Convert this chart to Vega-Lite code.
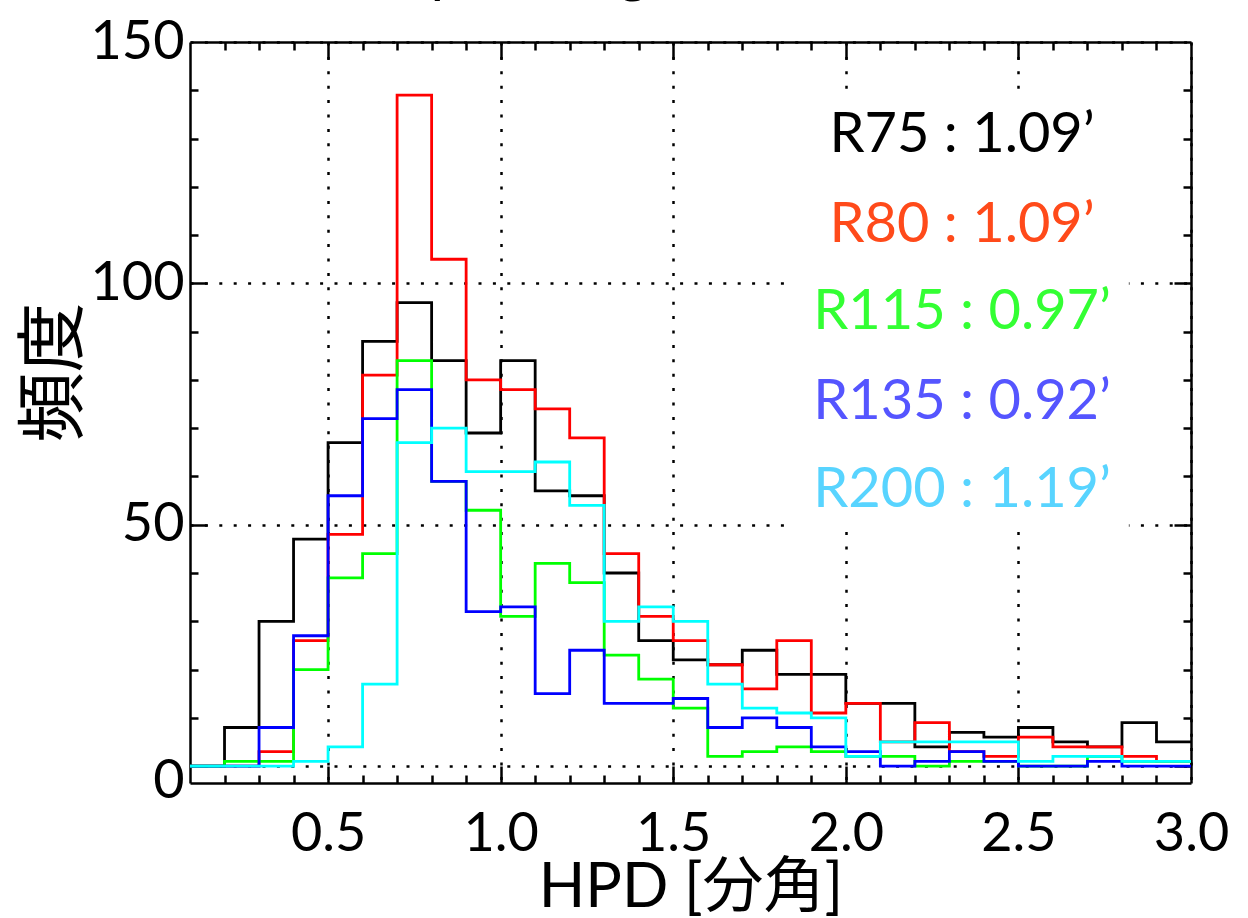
{
  "$schema": "https://vega.github.io/schema/vega-lite/v6.json",
  "width": 1001,
  "height": 741,
  "autosize": {"type": "none"},
  "padding": {"left": 190, "top": 42, "right": 57, "bottom": 135},
  "background": "white",
  "config": {"view": {"stroke": null}, "font": "Lato"},
  "title": {"text": "Spot image 測定結果", "font": "Lato, Noto Sans CJK JP", "fontSize": 57, "fontWeight": "normal", "baseline": "alphabetic", "offset": -33, "dx": -30, "anchor": "middle", "color": "black"},
  "datasets": {
    "hist": [
      {"series":"R75","x":0.1,"n":0},{"series":"R75","x":0.2,"n":8},{"series":"R75","x":0.3,"n":30},{"series":"R75","x":0.4,"n":47},{"series":"R75","x":0.5,"n":67},{"series":"R75","x":0.6,"n":88},{"series":"R75","x":0.7,"n":96},{"series":"R75","x":0.8,"n":84},{"series":"R75","x":0.9,"n":69},{"series":"R75","x":1.0,"n":84},{"series":"R75","x":1.1,"n":57},{"series":"R75","x":1.2,"n":56},{"series":"R75","x":1.3,"n":40},{"series":"R75","x":1.4,"n":26},{"series":"R75","x":1.5,"n":22},{"series":"R75","x":1.6,"n":21},{"series":"R75","x":1.7,"n":24},{"series":"R75","x":1.8,"n":19},{"series":"R75","x":1.9,"n":19},{"series":"R75","x":2.0,"n":13},{"series":"R75","x":2.1,"n":13},{"series":"R75","x":2.2,"n":4},{"series":"R75","x":2.3,"n":7},{"series":"R75","x":2.4,"n":6},{"series":"R75","x":2.5,"n":8},{"series":"R75","x":2.6,"n":5},{"series":"R75","x":2.7,"n":4},{"series":"R75","x":2.8,"n":9},{"series":"R75","x":2.9,"n":5},{"series":"R75","x":3.0,"n":5},
      {"series":"R80","x":0.1,"n":0},{"series":"R80","x":0.2,"n":0},{"series":"R80","x":0.3,"n":3},{"series":"R80","x":0.4,"n":26},{"series":"R80","x":0.5,"n":48},{"series":"R80","x":0.6,"n":81},{"series":"R80","x":0.7,"n":139},{"series":"R80","x":0.8,"n":105},{"series":"R80","x":0.9,"n":80},{"series":"R80","x":1.0,"n":78},{"series":"R80","x":1.1,"n":74},{"series":"R80","x":1.2,"n":68},{"series":"R80","x":1.3,"n":44},{"series":"R80","x":1.4,"n":31},{"series":"R80","x":1.5,"n":26},{"series":"R80","x":1.6,"n":21},{"series":"R80","x":1.7,"n":16},{"series":"R80","x":1.8,"n":26},{"series":"R80","x":1.9,"n":11},{"series":"R80","x":2.0,"n":13},{"series":"R80","x":2.1,"n":5},{"series":"R80","x":2.2,"n":9},{"series":"R80","x":2.3,"n":3},{"series":"R80","x":2.4,"n":2},{"series":"R80","x":2.5,"n":6},{"series":"R80","x":2.6,"n":4},{"series":"R80","x":2.7,"n":4},{"series":"R80","x":2.8,"n":2},{"series":"R80","x":2.9,"n":1},{"series":"R80","x":3.0,"n":1},
      {"series":"R115","x":0.1,"n":0},{"series":"R115","x":0.2,"n":1},{"series":"R115","x":0.3,"n":1},{"series":"R115","x":0.4,"n":20},{"series":"R115","x":0.5,"n":39},{"series":"R115","x":0.6,"n":44},{"series":"R115","x":0.7,"n":84},{"series":"R115","x":0.8,"n":59},{"series":"R115","x":0.9,"n":53},{"series":"R115","x":1.0,"n":31},{"series":"R115","x":1.1,"n":42},{"series":"R115","x":1.2,"n":38},{"series":"R115","x":1.3,"n":23},{"series":"R115","x":1.4,"n":18},{"series":"R115","x":1.5,"n":12},{"series":"R115","x":1.6,"n":2},{"series":"R115","x":1.7,"n":3},{"series":"R115","x":1.8,"n":4},{"series":"R115","x":1.9,"n":3},{"series":"R115","x":2.0,"n":2},{"series":"R115","x":2.1,"n":2},{"series":"R115","x":2.2,"n":0},{"series":"R115","x":2.3,"n":1},{"series":"R115","x":2.4,"n":1},{"series":"R115","x":2.5,"n":0},{"series":"R115","x":2.6,"n":0},{"series":"R115","x":2.7,"n":2},{"series":"R115","x":2.8,"n":1},{"series":"R115","x":2.9,"n":1},{"series":"R115","x":3.0,"n":1},
      {"series":"R135","x":0.1,"n":0},{"series":"R135","x":0.2,"n":0},{"series":"R135","x":0.3,"n":8},{"series":"R135","x":0.4,"n":27},{"series":"R135","x":0.5,"n":56},{"series":"R135","x":0.6,"n":72},{"series":"R135","x":0.7,"n":78},{"series":"R135","x":0.8,"n":59},{"series":"R135","x":0.9,"n":32},{"series":"R135","x":1.0,"n":33},{"series":"R135","x":1.1,"n":15},{"series":"R135","x":1.2,"n":24},{"series":"R135","x":1.3,"n":13},{"series":"R135","x":1.4,"n":13},{"series":"R135","x":1.5,"n":14},{"series":"R135","x":1.6,"n":8},{"series":"R135","x":1.7,"n":10},{"series":"R135","x":1.8,"n":8},{"series":"R135","x":1.9,"n":4},{"series":"R135","x":2.0,"n":3},{"series":"R135","x":2.1,"n":0},{"series":"R135","x":2.2,"n":1},{"series":"R135","x":2.3,"n":3},{"series":"R135","x":2.4,"n":1},{"series":"R135","x":2.5,"n":0},{"series":"R135","x":2.6,"n":0},{"series":"R135","x":2.7,"n":1},{"series":"R135","x":2.8,"n":0},{"series":"R135","x":2.9,"n":0},{"series":"R135","x":3.0,"n":0},
      {"series":"R200","x":0.1,"n":0},{"series":"R200","x":0.2,"n":0},{"series":"R200","x":0.3,"n":0},{"series":"R200","x":0.4,"n":1},{"series":"R200","x":0.5,"n":4},{"series":"R200","x":0.6,"n":17},{"series":"R200","x":0.7,"n":67},{"series":"R200","x":0.8,"n":70},{"series":"R200","x":0.9,"n":61},{"series":"R200","x":1.0,"n":61},{"series":"R200","x":1.1,"n":63},{"series":"R200","x":1.2,"n":54},{"series":"R200","x":1.3,"n":30},{"series":"R200","x":1.4,"n":33},{"series":"R200","x":1.5,"n":30},{"series":"R200","x":1.6,"n":17},{"series":"R200","x":1.7,"n":12},{"series":"R200","x":1.8,"n":11},{"series":"R200","x":1.9,"n":10},{"series":"R200","x":2.0,"n":2},{"series":"R200","x":2.1,"n":5},{"series":"R200","x":2.2,"n":5},{"series":"R200","x":2.3,"n":5},{"series":"R200","x":2.4,"n":5},{"series":"R200","x":2.5,"n":1},{"series":"R200","x":2.6,"n":2},{"series":"R200","x":2.7,"n":2},{"series":"R200","x":2.8,"n":1},{"series":"R200","x":2.9,"n":1},{"series":"R200","x":3.0,"n":1}
    ],
    "box": [{"x": 1.85, "x2": 2.82, "y": 49, "y2": 139}],
    "legendText": [
      {"label": "R75 : 1.09’", "series": "R75", "x": 2.337, "y": 127.2},
      {"label": "R80 : 1.09’", "series": "R80", "x": 2.337, "y": 108.6},
      {"label": "R115 : 0.97’", "series": "R115", "x": 2.337, "y": 90.5},
      {"label": "R135 : 0.92’", "series": "R135", "x": 2.337, "y": 71.9},
      {"label": "R200 : 1.19’", "series": "R200", "x": 2.337, "y": 53.7}
    ]
  },
  "layer": [
    {
      "data": {"name": "hist"},
      "mark": {"type": "line", "interpolate": "step-after", "strokeWidth": 2.8, "clip": true},
      "encoding": {
        "x": {"field": "x", "type": "quantitative",
          "scale": {"domain": [0.1, 3.0], "nice": false, "zero": false},
          "axis": {"orient": "bottom", "values": [0.5, 1.0, 1.5, 2.0, 2.5, 3.0], "format": ".1f",
            "ticks": false, "domain": true, "domainColor": "black", "domainWidth": 2.5,
            "grid": true, "gridColor": "black", "gridDash": [3, 11.4], "gridWidth": 2.5, "gridOpacity": 1,
            "labelFont": "Lato", "labelFontSize": 54, "labelColor": "black", "labelPadding": 67, "labelBaseline": "alphabetic", "labelFlush": false, "labelOverlap": false,
            "title": "HPD [分角]", "titleFont": "Lato, Noto Sans CJK JP", "titleFontSize": 61, "titleFontWeight": "normal", "titleColor": "black",
            "titleBaseline": "alphabetic", "titleY": 123}},
        "y": {"field": "n", "type": "quantitative",
          "scale": {"domain": [-3.5, 150], "nice": false, "zero": false},
          "axis": {"orient": "left", "values": [0, 50, 100, 150],
            "ticks": false, "domain": true, "domainColor": "black", "domainWidth": 2.5,
            "grid": true, "gridColor": "black", "gridDash": [3, 11.4], "gridWidth": 2.5, "gridOpacity": 1,
            "labelFont": "Lato", "labelFontSize": 54, "labelColor": "black", "labelPadding": 6, "labelBaseline": "middle", "labelFlush": false, "labelOverlap": false,
            "labelOffset": {"condition": {"test": "datum.value === 0", "value": 15}, "value": 0},
            "title": "頻度", "titleFont": "Noto Sans CJK JP", "titleFontSize": 70, "titleFontWeight": "normal", "titleColor": "black",
            "titleAngle": -90, "titleAlign": "center", "titleBaseline": "middle", "titleX": -135, "titleY": 330}},
        "color": {"field": "series", "type": "nominal",
          "scale": {"domain": ["R75", "R80", "R115", "R135", "R200"], "range": ["#000000", "#ff0000", "#00ff00", "#0000ff", "#00ffff"]},
          "legend": null}
      }
    },
    {
      "data": {"name": "box"},
      "mark": {"type": "rect", "fill": "white", "stroke": null},
      "encoding": {
        "x": {"field": "x", "type": "quantitative",
          "scale": {"domain": [0.1, 3.0], "nice": false, "zero": false},
          "axis": {"orient": "bottom", "values": [0.2,0.3,0.4,0.5,0.6,0.7,0.8,0.9,1.0,1.1,1.2,1.3,1.4,1.5,1.6,1.7,1.8,1.9,2.0,2.1,2.2,2.3,2.4,2.5,2.6,2.7,2.8,2.9],
            "labels": false, "domain": false, "grid": false, "ticks": true, "tickColor": "black", "tickWidth": 2.5,
            "tickSize": {"condition": {"test": "abs(datum.value*2 - round(datum.value*2)) < 0.01", "value": -17}, "value": -8},
            "title": null}},
        "x2": {"field": "x2"},
        "y": {"field": "y", "type": "quantitative",
          "scale": {"domain": [-3.5, 150], "nice": false, "zero": false},
          "axis": {"orient": "left", "values": [0,10,20,30,40,50,60,70,80,90,100,110,120,130,140],
            "labels": false, "domain": false, "grid": false, "ticks": true, "tickColor": "black", "tickWidth": 2.5,
            "tickSize": {"condition": {"test": "datum.value % 50 === 0", "value": -17}, "value": -8},
            "title": null}},
        "y2": {"field": "y2"}
      }
    },
    {
      "data": {"name": "legendText"},
      "mark": {"type": "text", "align": "center", "baseline": "alphabetic", "fontSize": 56, "font": "Lato"},
      "encoding": {
        "x": {"field": "x", "type": "quantitative",
          "scale": {"domain": [0.1, 3.0], "nice": false, "zero": false},
          "axis": {"orient": "top", "values": [0.2,0.3,0.4,0.5,0.6,0.7,0.8,0.9,1.0,1.1,1.2,1.3,1.4,1.5,1.6,1.7,1.8,1.9,2.0,2.1,2.2,2.3,2.4,2.5,2.6,2.7,2.8,2.9],
            "labels": false, "domain": true, "domainColor": "black", "domainWidth": 2.5, "grid": false, "ticks": true, "tickColor": "black", "tickWidth": 2.5,
            "tickSize": {"condition": {"test": "abs(datum.value*2 - round(datum.value*2)) < 0.01", "value": -17}, "value": -8},
            "title": null}},
        "y": {"field": "y", "type": "quantitative",
          "scale": {"domain": [-3.5, 150], "nice": false, "zero": false},
          "axis": {"orient": "right", "values": [0,10,20,30,40,50,60,70,80,90,100,110,120,130,140],
            "labels": false, "domain": true, "domainColor": "black", "domainWidth": 2.5, "grid": false, "ticks": true, "tickColor": "black", "tickWidth": 2.5,
            "tickSize": {"condition": {"test": "datum.value % 50 === 0", "value": -17}, "value": -8},
            "title": null}},
        "text": {"field": "label"},
        "fill": {"field": "series", "type": "nominal",
          "scale": {"domain": ["R75", "R80", "R115", "R135", "R200"], "range": ["#000000", "#ff4a1a", "#33ff33", "#5555ff", "#58d4ff"]},
          "legend": null}
      }
    }
  ],
  "resolve": {"axis": {"x": "independent", "y": "independent"}}
}
